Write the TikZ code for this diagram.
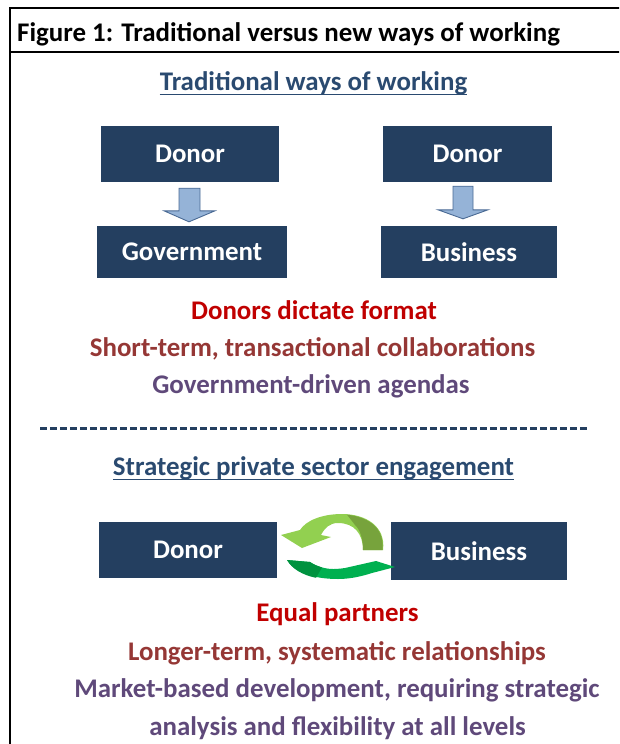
\documentclass[tikz,border=0pt]{standalone}
\usepackage{fontspec}
\setmainfont{Carlito}
\usetikzlibrary{calc}
\definecolor{navy}{HTML}{243F60}
\definecolor{hcol}{HTML}{2A4A70}
\definecolor{redc}{HTML}{C00000}
\definecolor{brownc}{HTML}{953735}
\definecolor{purplec}{HTML}{5F497A}
\definecolor{arrowfill}{HTML}{95B3D7}
\definecolor{arrowline}{HTML}{4A6A94}
\definecolor{lgreen}{HTML}{92D050}
\definecolor{olive}{HTML}{77A33C}
\definecolor{mgreen}{HTML}{00B050}
\definecolor{dgreen}{HTML}{00923F}
\tikzset{
  bigfont/.style={font=\bfseries\fontsize{26.9}{31}\selectfont},
  box/.style={bigfont, fill=navy, text=white, inner sep=0pt},
  heading/.style={bigfont, text=hcol, anchor=base, inner sep=0pt},
  txtline/.style={bigfont, anchor=base, inner sep=0pt},
  ulined/.style={hcol, line width=1.8pt},
  barrow/.style={fill=arrowfill, draw=arrowline, line width=0.9pt, line join=miter},
}
\begin{document}
\begin{tikzpicture}[x=1pt,y=1pt]
\useasboundingbox (0,0) rectangle (619,-744);
\clip (0,0) rectangle (619,-744);
% frame
\draw[line width=2pt] (9.5,-760) -- (9.5,-7.5) -- (630,-7.5);
\draw[line width=2pt] (9.5,-52) -- (630,-52);
\node[bigfont, anchor=base west, inner sep=0pt] (title) at (17,-41.5) {Figure 1: Traditional versus new ways of working};

% traditional
\node[heading] (h1) at (313.5,-90) {Traditional ways of working};
\draw[ulined] ($(h1.base west)+(0,-4.5)$) -- ($(h1.base east)+(0,-4.5)$);

\node[box, minimum width=178pt, minimum height=56pt] (d1) at (190,-154) {Donor};
\node[box, minimum width=190pt, minimum height=52pt] (g1) at (192,-252) {Government};
\node[box, minimum width=169pt, minimum height=56pt] (d2) at (467.5,-154) {Donor};
\node[box, minimum width=176pt, minimum height=52pt] (b1) at (469,-252) {Business};

\draw[barrow] let \p1=(d1.south), \p2=(g1.north) in
  (\x1-11,\y1-6) -- (\x1+10,\y1-6) -- (\x1+10,\y2+15) -- (\x1+25,\y2+15)
  -- (\x1-1,\y2+4) -- (\x1-26,\y2+15) -- (\x1-11,\y2+15) -- cycle;
\draw[barrow] let \p1=(d2.south), \p2=(b1.north) in
  (\x1-14.5,\y1-4) -- (\x1+5.5,\y1-4) -- (\x1+5.5,\y2+16) -- (\x1+20.5,\y2+16)
  -- (\x1-4.5,\y2+7) -- (\x1-29.5,\y2+16) -- (\x1-14.5,\y2+16) -- cycle;

\node[txtline, text=redc] (t1) at (314,-319) {Donors dictate format};
\node[txtline, text=brownc] (t2) at (312.5,-356) {Short-term, transactional collaborations};
\node[txtline, text=purplec] (t3) at (311,-393) {Government-driven agendas};

% separator
\coordinate (s1) at (40,-428.5);
\coordinate (s2) at (587,-428.5);
\draw[navy, line width=3pt, dash pattern=on 7pt off 3pt] (s1) -- (s2);

% strategic
\node[heading] (h2) at (313.5,-475) {Strategic private sector engagement};
\draw[ulined] ($(h2.base west)+(0,-4.5)$) -- ($(h2.base east)+(0,-4.5)$);

\node[box, minimum width=178pt, minimum height=56pt] (d3) at (188,-550) {Donor};
\node[box, minimum width=176pt, minimum height=58pt] (b2) at (479,-551) {Business};

\begin{scope}[shift={($(d3.east)!0.5!(b2.west)$)}]
  % top arrow
  \fill[lgreen] (49,0.5) .. controls (52,24) and (32,36.5) .. (8,36.5)
     .. controls (-12,36.5) and (-28,30) .. (-34,20.5) -- (-53,15.5) -- (-32,2.5)
     -- (-3,13.5) -- (-13,15.5) .. controls (-9,23) and (-4,27.5) .. (4,27.5)
     .. controls (20,27.5) and (29,17) .. (29,0.5) -- cycle;
  \fill[olive] (48.5,0.5) .. controls (50.5,20) and (38,33) .. (13,35.8)
     -- (21,25.5) .. controls (26,21) and (29,12) .. (29,0.5) -- cycle;
  % bottom arrow
  \fill[mgreen] (-47,-9.5) .. controls (-40,-22) and (-20,-28.5) .. (4,-28.5)
     .. controls (18,-28.5) and (30,-25) .. (38,-22.5) -- (61,-16.5) -- (42,-10.5)
     -- (11,-17.5) .. controls (5,-18.5) and (0,-18.5) .. (-1,-18.5)
     .. controls (-10,-18.5) and (-19,-15) .. (-24,-11.5) -- cycle;
  \fill[dgreen] (-47,-9.5) .. controls (-42,-18) and (-32,-24.5) .. (-18,-27.3)
     -- (-12,-17) .. controls (-17,-15.5) and (-21,-13.5) .. (-24,-11.5) -- cycle;
\end{scope}

\node[txtline, text=redc] (t4) at (337.5,-621) {Equal partners};
\node[txtline, text=brownc] (t5) at (337,-660) {Longer-term, systematic relationships};
\node[txtline, text=purplec] (t6) at (337,-697) {Market-based development, requiring strategic};
\node[txtline, text=purplec] (t7) at (337.5,-735) {analysis and flexibility at all levels};
\end{tikzpicture}
\end{document}
